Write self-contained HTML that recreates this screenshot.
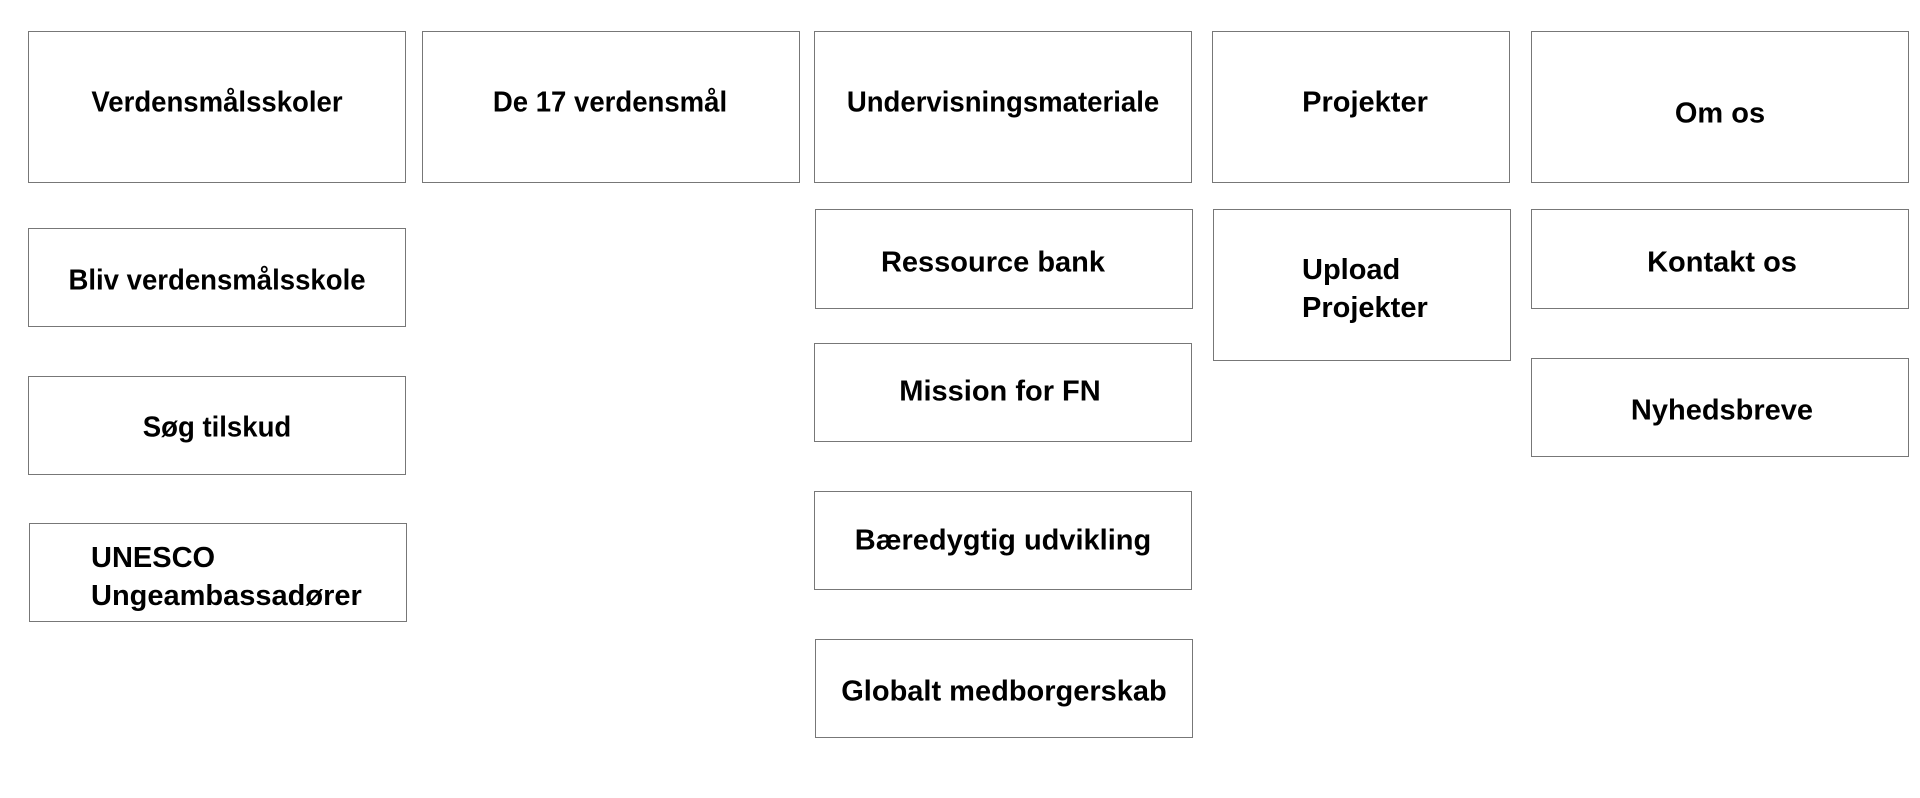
<!DOCTYPE html>
<html><head><meta charset="utf-8"><style>
body{margin:0;width:1920px;height:798px;background:#fff;position:relative;overflow:hidden;font-family:"Liberation Sans",sans-serif;}
.b{position:absolute;border:1.3px solid #777;box-sizing:border-box;}
.t{position:absolute;font-weight:bold;font-size:29px;color:#000;white-space:nowrap;transform:translate(-50%,-50%);line-height:1;}
.c{transform:translate(-50%,-50%) scaleX(0.95);}
.l{position:absolute;font-weight:bold;font-size:29px;color:#000;white-space:nowrap;line-height:38px;}
</style></head><body>
<div class="b" style="left:28px;top:31px;width:378px;height:152px"></div>
<div class="b" style="left:422px;top:31px;width:378px;height:152px"></div>
<div class="b" style="left:814px;top:31px;width:378px;height:152px"></div>
<div class="b" style="left:1212px;top:31px;width:298px;height:152px"></div>
<div class="b" style="left:1531px;top:31px;width:378px;height:152px"></div>
<div class="b" style="left:28px;top:228px;width:378px;height:99px"></div>
<div class="b" style="left:28px;top:376px;width:378px;height:99px"></div>
<div class="b" style="left:29px;top:523px;width:378px;height:99px"></div>
<div class="b" style="left:815px;top:209px;width:378px;height:100px"></div>
<div class="b" style="left:814px;top:343px;width:378px;height:99px"></div>
<div class="b" style="left:814px;top:491px;width:378px;height:99px"></div>
<div class="b" style="left:815px;top:639px;width:378px;height:99px"></div>
<div class="b" style="left:1213px;top:209px;width:298px;height:152px"></div>
<div class="b" style="left:1531px;top:209px;width:378px;height:100px"></div>
<div class="b" style="left:1531px;top:358px;width:378px;height:99px"></div>

<div class="t c" style="left:217px;top:103px">Verdensmålsskoler</div>
<div class="t c" style="left:610px;top:103px">De 17 verdensmål</div>
<div class="t c" style="left:1003px;top:103px">Undervisningsmateriale</div>
<div class="t" style="left:1365px;top:103px">Projekter</div>
<div class="t" style="left:1720px;top:114px">Om os</div>
<div class="t c" style="left:217px;top:281px">Bliv verdensmålsskole</div>
<div class="t c" style="left:217px;top:428px">Søg tilskud</div>
<div class="l" style="left:91px;top:539px">UNESCO<br>Ungeambassadører</div>
<div class="t" style="left:993px;top:263px">Ressource bank</div>
<div class="t" style="left:1000px;top:392px">Mission for FN</div>
<div class="t" style="left:1003px;top:541px">Bæredygtig udvikling</div>
<div class="t" style="left:1004px;top:692px">Globalt medborgerskab</div>
<div class="l" style="left:1302px;top:251px">Upload<br>Projekter</div>
<div class="t" style="left:1722px;top:263px">Kontakt os</div>
<div class="t" style="left:1722px;top:411px">Nyhedsbreve</div>
</body></html>
